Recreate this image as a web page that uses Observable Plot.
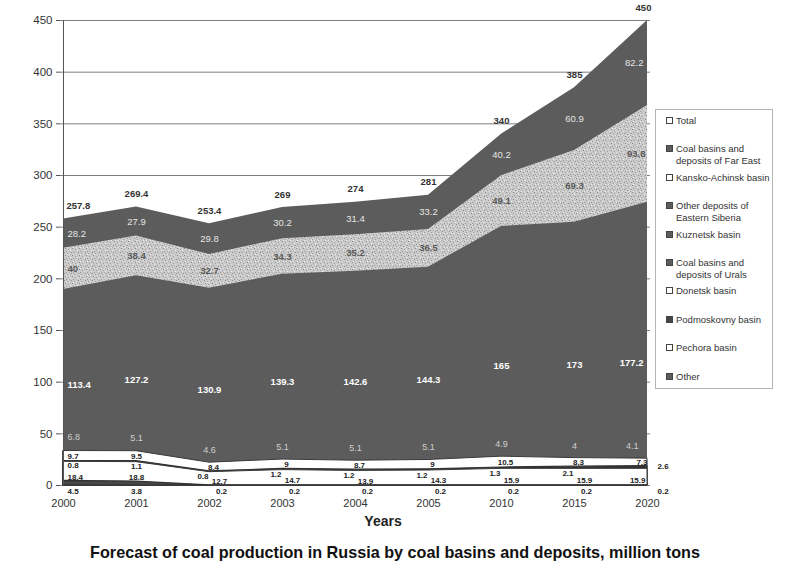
<!DOCTYPE html>
<html><head><meta charset="utf-8">
<script src="https://cdn.jsdelivr.net/npm/d3@7"></script>
<script src="https://cdn.jsdelivr.net/npm/@observablehq/plot@0.6"></script>
<style>
body{margin:0;background:#fff;font-family:"Liberation Sans",Arial,sans-serif;}
#wrap{position:relative;width:788px;height:573px;overflow:hidden;}
#legend{position:absolute;left:655px;top:109px;width:118px;height:280px;border:1px solid #b5b5b5;box-sizing:border-box;}
.li{position:absolute;left:11px;font-size:9.5px;line-height:11.5px;color:#333;}
.sq{position:absolute;left:-1px;top:2px;width:5px;height:5px;border:1px solid #444;}
.lt{margin-left:9px;white-space:nowrap;}
#years{position:absolute;top:513px;left:0;width:766px;text-align:center;font-weight:bold;font-size:14px;color:#222;}
#title{position:absolute;top:543px;left:0;width:790px;text-align:center;font-weight:bold;font-size:16.2px;color:#111;}
</style></head><body>
<svg width="0" height="0" style="position:absolute">
 <defs>
  <pattern id="speck" width="7" height="7" patternUnits="userSpaceOnUse">
   <rect width="7" height="7" fill="#cbcbcb"/>
   <rect x="1" y="0" width="1" height="1" fill="#8c8c8c"/>
   <rect x="4" y="1" width="1" height="1" fill="#9a9a9a"/>
   <rect x="6" y="2" width="1" height="1" fill="#e6e6e6"/>
   <rect x="2" y="3" width="1" height="1" fill="#888"/>
   <rect x="5" y="4" width="1" height="1" fill="#a0a0a0"/>
   <rect x="0" y="5" width="1" height="1" fill="#e8e8e8"/>
   <rect x="3" y="6" width="1" height="1" fill="#959595"/>
   <rect x="6" y="6" width="1" height="1" fill="#b0b0b0"/>
   <rect x="0" y="2" width="1" height="1" fill="#a8a8a8"/>
   <rect x="3" y="2" width="1" height="1" fill="#ececec"/>
  </pattern>
 </defs>
</svg>
<div id="wrap"><div id="chart"></div><div id="legend"></div><div id="years">Years</div>
<div id="title">Forecast of coal production in Russia by coal basins and deposits, million tons</div></div>
<script>
const years = ["2000","2001","2002","2003","2004","2005","2010","2015","2020"];
const other       = [4.5, 3.8, 0.2, 0.2, 0.2, 0.2, 0.2, 0.2, 0.2];
const pechora     = [18.4, 18.8, 12.7, 14.7, 13.9, 14.3, 15.9, 15.9, 15.9];
const podmoskovny = [0.8, 1.1, 0.8, 1.2, 1.2, 1.2, 1.3, 2.1, 2.6];
const donetsk     = [9.7, 9.5, 8.4, 9, 8.7, 9, 10.5, 8.3, 7.3];
const urals       = [6.8, 5.1, 4.6, 5.1, 5.1, 5.1, 4.9, 4, 4.1];
const kuznetsk    = [113.4, 127.2, 130.9, 139.3, 142.6, 144.3, 165, 173, 177.2];
const eastSiberia = [36.0, 37.6, 33.3, 35.0, 35.7, 37.2, 52.9, 51.3, 66.7];
const kanskoAchinsk = [40, 38.4, 32.7, 34.3, 35.2, 36.5, 49.1, 69.3, 93.8];
const farEast     = [28.2, 27.9, 29.8, 30.2, 31.4, 33.2, 40.2, 60.9, 82.2];
const total       = [257.8, 269.4, 253.4, 269, 274, 281, 340, 385, 450];
const yTicks = [0, 50, 100, 150, 200, 250, 300, 350, 400, 450];

const seriesNames = ["Other","Pechora basin","Podmoskovny basin","Donetsk basin",
  "Coal basins and deposits of Urals","Kuznetsk basin","Other deposits of Eastern Siberia",
  "Kansko-Achinsk basin","Coal basins and deposits of Far East"];
const seriesValues = [other, pechora, podmoskovny, donetsk, urals, kuznetsk, eastSiberia, kanskoAchinsk, farEast];

// styles
const areaStyle = [
  {fill:"#474747", stroke:"#333", sw:1.2},
  {fill:"#ffffff", stroke:"#3a3a3a", sw:1},
  {fill:"#333333", stroke:"#333", sw:1.2},
  {fill:"#ffffff", stroke:"#3a3a3a", sw:1},
  {fill:"#5c5c5c", stroke:"none", sw:0},
  {fill:"#5c5c5c", stroke:"none", sw:0},
  {fill:"#5c5c5c", stroke:"none", sw:0},
  {fill:"url(#speck)", stroke:"none", sw:0},
  {fill:"#5c5c5c", stroke:"none", sw:0}
];
const labelStyle = [
  {pos:"zero", dy:6, dyFirst:6, color:"#222", size:8, weight:"bold", midDx:12, midAnchor:"middle", lastAnchor:"start", lastDx:10},
  {pos:"mid", dy:3, dyFirst:6, color:"#222", size:8, weight:"bold", midDx:10, midAnchor:"middle", lastAnchor:"end", lastDx:-2},
  {pos:"bottom", dy:4.5, dyFirst:4, color:"#222", size:8, weight:"bold", midDx:-1, midAnchor:"end", lastAnchor:"start", lastDx:10, lastDy:-2},
  {pos:"mid", dy:0, dyFirst:0, color:"#222", size:8, weight:"bold", midDx:4, midAnchor:"middle", lastAnchor:"end", lastDx:0},
  {pos:"mid", dy:-10, dyFirst:-10, color:"#cfcfcf", size:9, weight:"normal", midDx:0, midAnchor:"middle", lastAnchor:"end", lastDx:-9},
  {pos:"mid", dy:0, dyFirst:0, color:"#ffffff", size:9.5, weight:"bold", midDx:0, midAnchor:"middle", lastAnchor:"end", lastDx:-4},
  null,
  {pos:"mid", dy:0, dyFirst:0, color:"#5a5a5a", size:9.5, weight:"bold", midDx:0, midAnchor:"middle", lastAnchor:"end", lastDx:-2},
  {pos:"mid", dy:0, dyFirst:0, color:"#e6e6e6", size:9.5, weight:"normal", midDx:0, midAnchor:"middle", lastAnchor:"end", lastDx:-4}
];

// stacked rows
const rows = [];
const base = years.map(() => 0);
seriesNames.forEach((s, si) => {
  years.forEach((yr, i) => {
    const v = seriesValues[si][i];
    rows.push({series: s, si, i, year: yr, value: v, y0: base[i], y1: base[i] + v});
    base[i] += v;
  });
});

const marks = [];
marks.push(Plot.gridY(yTicks, {stroke:"#555", strokeOpacity:0.85, strokeWidth:0.9}));
// painter's order: top series first, each filled from 0 to its cumulative top (no seams)
for (let si = seriesNames.length - 1; si >= 0; si--) {
  const st = areaStyle[si];
  marks.push(Plot.areaY(rows.filter(r => r.si === si), {x:"year", y1: 0, y2:"y1",
    fill: st.fill, stroke: st.stroke, strokeWidth: st.sw, curve:"linear"}));
}
marks.push(Plot.ruleX([years[0]], {stroke:"#555", strokeWidth:1}));

// labels
seriesNames.forEach((s, si) => {
  const ls = labelStyle[si];
  if (!ls) return;
  const lr = rows.filter(r => r.si === si).map(r => ({
    ...r, label: String(r.value),
    ly: ls.pos === "mid" ? (r.y0 + r.y1) / 2 : ls.pos === "zero" ? 0 : ls.pos === "bottom" ? r.y0 : r.y1
  }));
  const common = {x:"year", y:"ly", text:"label", fill: ls.color, fontSize: ls.size, fontWeight: ls.weight};
  marks.push(Plot.text(lr.filter(r => r.i === 0), {...common, textAnchor:"start", dx:4, dy: ls.dyFirst}));
  marks.push(Plot.text(lr.filter(r => r.i === 1), {...common, textAnchor:"middle", dx:0, dy: ls.dyFirst}));
  marks.push(Plot.text(lr.filter(r => r.i >= 2 && r.i <= 7), {...common, textAnchor: ls.midAnchor, dx: ls.midDx, dy: ls.dy}));
  marks.push(Plot.text(lr.filter(r => r.i === 8), {...common, textAnchor: ls.lastAnchor, dx: ls.lastDx, dy: ls.lastDy ?? ls.dy}));
});
// totals
const totalRows = years.map((yr, i) => ({year: yr, i, value: total[i], label: String(total[i])}));
const tcommon = {x:"year", y:"value", text:"label", fill:"#333", fontSize:9.5, fontWeight:"bold", dy:-13};
marks.push(Plot.text(totalRows.filter(r => r.i === 0), {...tcommon, textAnchor:"start", dx:3}));
marks.push(Plot.text(totalRows.filter(r => r.i > 0 && r.i < 8), {...tcommon, textAnchor:"middle"}));
marks.push(Plot.text(totalRows.filter(r => r.i === 8), {...tcommon, textAnchor:"middle", dx:-4}));

marks.push(Plot.axisY({ticks: yTicks, tickSize:4, tickPadding:4, fontSize:11.5, label:null, stroke:"#555"}));
marks.push(Plot.axisX({tickSize:0, tickPadding:14, fontSize:11, label:null}));

const chart = Plot.plot({
  width: 788, height: 535,
  marginLeft: 60, marginRight: 138, marginTop: 20, marginBottom: 50,
  style: {fontFamily: "'Liberation Sans', Arial, sans-serif", color:"#333", background:"#fff"},
  x: {type:"point", domain: years, padding: 0},
  y: {domain: [0, 450]},
  marks
});
document.getElementById("chart").appendChild(chart);

// legend
const legendItems = [
  {name:"Total", fill:"#fff"},
  {name:"Coal basins and<br>deposits of Far East", fill:"#5c5c5c"},
  {name:"Kansko-Achinsk basin", fill:"#fff"},
  {name:"Other deposits of<br>Eastern Siberia", fill:"#5c5c5c"},
  {name:"Kuznetsk basin", fill:"#5c5c5c"},
  {name:"Coal basins and<br>deposits of Urals", fill:"#5c5c5c"},
  {name:"Donetsk basin", fill:"#fff"},
  {name:"Podmoskovny basin", fill:"#444"},
  {name:"Pechora basin", fill:"#fff"},
  {name:"Other", fill:"#5c5c5c"}
];
const lg = document.getElementById("legend");
legendItems.forEach((it, k) => {
  const d = document.createElement("div");
  d.className = "li";
  d.style.top = (120 + 28.4 * k - 6 - 109) + "px";
  d.innerHTML = `<span class="sq" style="background:${it.fill}"></span><div class="lt">${it.name}</div>`;
  lg.appendChild(d);
});
</script>
</body></html>
